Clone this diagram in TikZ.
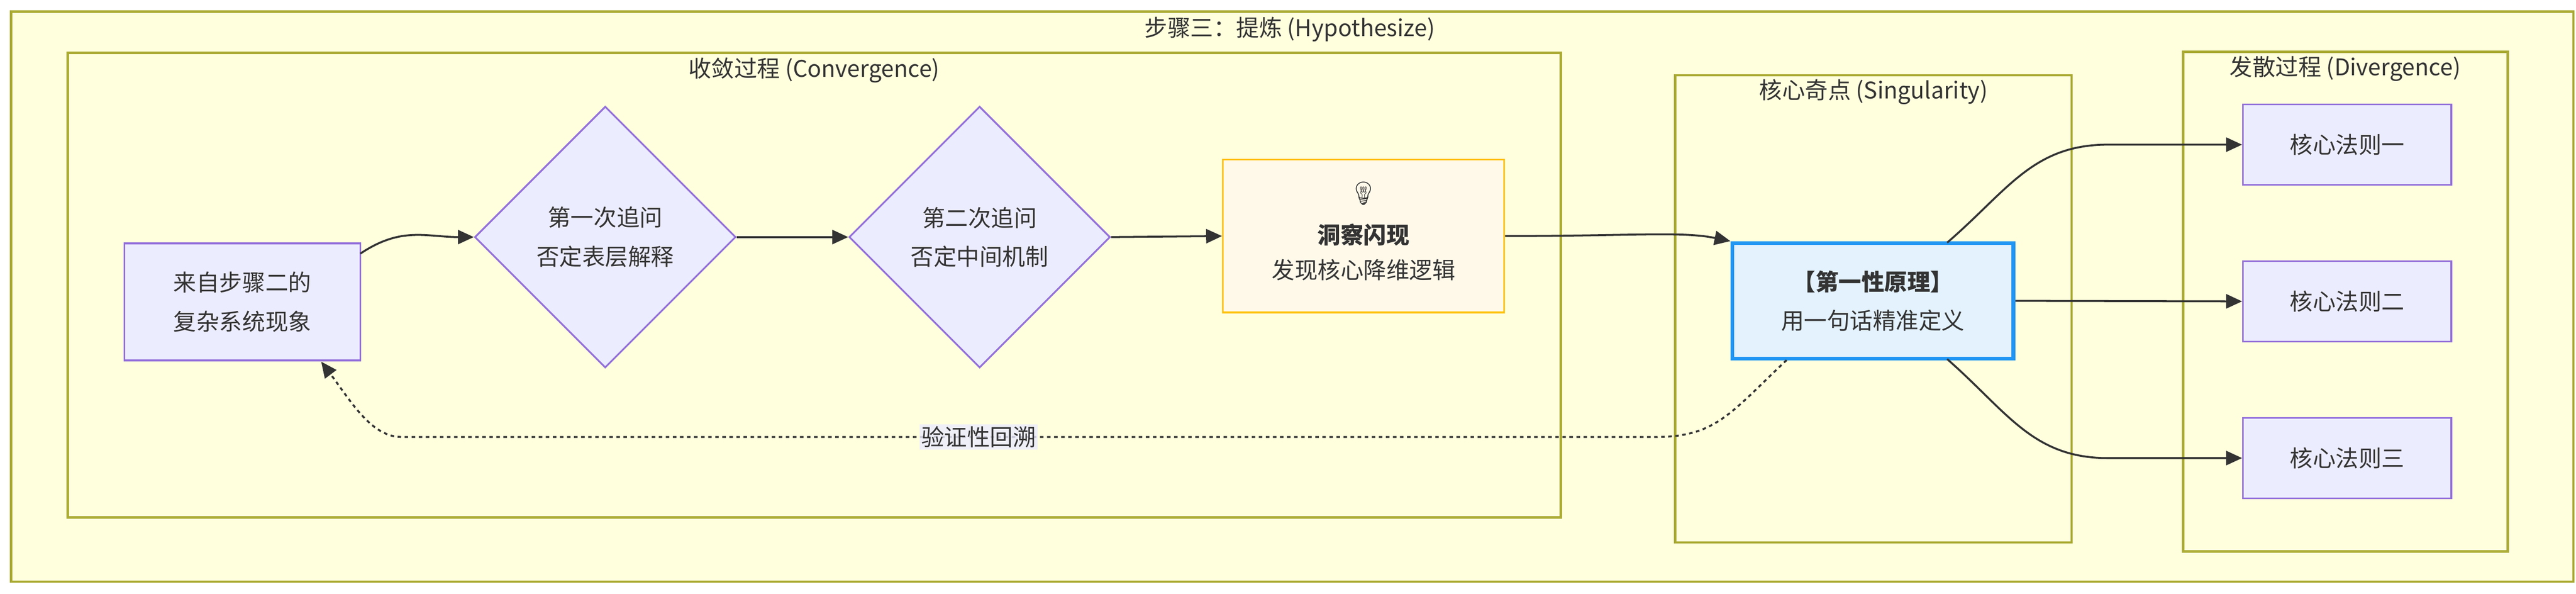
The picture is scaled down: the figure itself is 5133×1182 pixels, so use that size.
\documentclass[tikz,border=0pt]{standalone}
\usepackage{fontspec}
\setmainfont{Noto Sans CJK SC}
\newfontfamily\emoji{Noto Emoji}
\usetikzlibrary{shapes.geometric,arrows.meta}
\definecolor{tx}{HTML}{333333}
\definecolor{nf}{HTML}{ECECFF}
\definecolor{nd}{HTML}{9370DB}
\definecolor{cf}{HTML}{FFFFDE}
\definecolor{cd}{HTML}{AAAA33}
\definecolor{inf}{HTML}{FFF9EA}
\definecolor{ind}{HTML}{FFC107}
\definecolor{fpf}{HTML}{E3F2FD}
\definecolor{fpd}{HTML}{2196F3}
\tikzset{
 cl/.style={draw=cd,fill=cf,line width=1.3pt},
 ctitle/.style={text=tx,font=\fontsize{13}{15}\selectfont},
 box/.style={draw=nd,fill=nf,line width=1pt,text=tx,align=center,font=\fontsize{13}{22}\selectfont,inner sep=0pt},
 dia/.style={draw=nd,fill=nf,line width=1pt,text=tx,align=center,font=\fontsize{13}{22}\selectfont,diamond,inner sep=0pt,aspect=1},
 edge/.style={draw=tx,line width=1.1pt,-{Triangle[length=9pt,width=8pt]}},
}
\begin{document}
\begin{tikzpicture}[x=0.01cm,y=-0.01cm]
\useasboundingbox (0,0) rectangle (5133,1182);
\fill[white] (0,0) rectangle (5133,1182);
\draw[cl] (22,23) rectangle (5128,1158);
\node[ctitle] (t0) at (2570,58) {步骤三：提炼 (Hypothesize)};
\draw[cl] (135,105) rectangle (3110,1030);
\node[ctitle] (t1) at (1622,140) {收敛过程 (Convergence)};
\draw[cl] (3338,150) rectangle (4128,1080);
\node[ctitle] (t2) at (3733,183) {核心奇点 (Singularity)};
\draw[cl] (4350,103) rectangle (4997,1098);
\node[ctitle] (t3) at (4673,137) {发散过程 (Divergence)};

\node[box,minimum width=470\pgflinewidth*0+4.7cm,minimum height=2.33cm] (A) at (483,601) {来自步骤二的\\复杂系统现象};
\node[dia,minimum width=5.2cm,minimum height=5.2cm] (D1) at (1206,472) {第一次追问\\否定表层解释};
\node[dia,minimum width=5.2cm,minimum height=5.2cm] (D2) at (1952,472) {第二次追问\\否定中间机制};
\node[box,draw=ind,fill=inf,minimum width=5.6cm,minimum height=3.04cm] (I) at (2717,470) {};
\node[text=tx,font=\emoji\fontsize{13}{15}\selectfont] (bulb) at (2717,385) {💡};
\node[text=tx,font=\bfseries\fontsize{13}{15}\selectfont] (it1) at (2717,467) {洞察闪现};
\node[text=tx,font=\fontsize{13}{15}\selectfont] (it2) at (2717,537) {发现核心降维逻辑};
\node[box,draw=fpd,fill=fpf,line width=2.2pt,minimum width=5.6cm,minimum height=2.3cm] (F) at (3732,599) {\textbf{【第一性原理】}\\用一句话精准定义};
\node[box,minimum width=4.15cm,minimum height=1.6cm] (R1) at (4677,288) {核心法则一};
\node[box,minimum width=4.15cm,minimum height=1.6cm] (R2) at (4677,600) {核心法则二};
\node[box,minimum width=4.15cm,minimum height=1.6cm] (R3) at (4677,912) {核心法则三};

\draw[edge] (718,505) .. controls (800,450) and (850,472) .. (D1.west);
\draw[edge] (D1.east) -- (D2.west);
\draw[edge] (D2.east) -- (I.west);
\draw[edge] (I.east) .. controls (3250,470) and (3350,460) .. (F.north west);
\draw[edge] (3880,483) .. controls (4000,380) and (4050,288) .. (4200,288) -- (R1.west);
\draw[edge] (F.east) -- (R2.west);
\draw[edge] (3880,715) .. controls (4000,820) and (4050,912) .. (4200,912) -- (R3.west);
\coordinate (c1) at (3300,870);
\coordinate (c2) at (800,870);
\draw[draw=tx,line width=1.1pt,dash pattern=on 2pt off 2pt,-{Triangle[length=9pt,width=8pt]}] (3560,717) .. controls (3450,820) and (3420,870) .. (c1) -- (c2) .. controls (740,870) and (700,800) .. (640,720);
\node[fill=nf,fill opacity=0.8,text opacity=1,text=tx,font=\fontsize{13}{15}\selectfont,inner sep=1pt] (lbl) at (1950,870) {验证性回溯};
\end{tikzpicture}
\end{document}
